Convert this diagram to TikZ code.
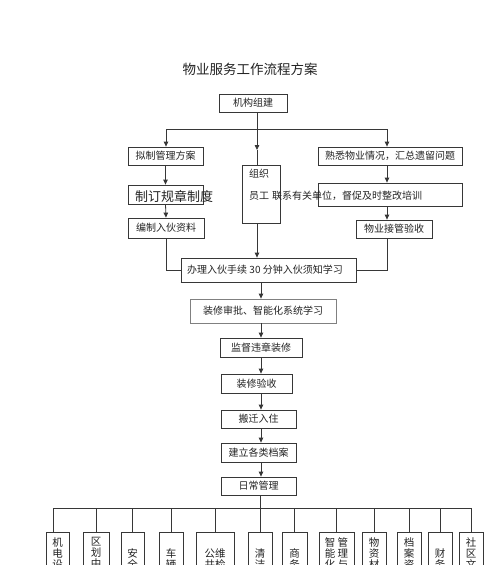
\documentclass[tikz,border=0pt]{standalone}
\usepackage{fontspec}
\setmainfont{Noto Sans CJK SC}
\usetikzlibrary{arrows.meta}
\definecolor{ln}{RGB}{55,55,55}
\definecolor{tx}{RGB}{35,35,35}
\begin{document}
\begin{tikzpicture}[x=1pt,y=-1pt,
  bx/.style={draw=ln,line width=0.8pt,inner sep=0pt,font=\fontsize{10}{12}\selectfont,text=tx},
  txt/.style={inner sep=0pt,font=\fontsize{10}{12}\selectfont,text=tx},
  lnk/.style={draw=ln,line width=0.8pt},
  arw/.style={draw=ln,line width=0.8pt,-{Triangle[length=5pt,width=4.5pt]}},
  vbox/.style={draw=ln,line width=0.8pt,inner sep=0pt,anchor=north,minimum height=70pt},
  vtxt/.style={inner sep=0pt,anchor=north,align=center,font=\fontsize{10.5}{11}\selectfont,text=tx}]

\clip (0,0) rectangle (500,565);
\fill[white] (0,0) rectangle (500,565);

\node[txt,font=\fontsize{13.5}{15}\selectfont] (title) at (250,69) {物业服务工作流程方案};

% top
\node[bx,minimum width=68pt,minimum height=18pt] (jg) at (253,103) {机构组建};
\node[bx,minimum width=75pt,minimum height=18pt] (nz) at (165.5,156) {拟制管理方案};
\node[bx,minimum width=75pt,minimum height=19pt] (zd) at (165.5,194.5) {};
\node[txt,font=\fontsize{13}{15}\selectfont] (zdt) at (174,196) {制订规章制度};
\node[bx,minimum width=76pt,minimum height=20pt] (bz) at (166,228) {编制入伙资料};
\node[bx,minimum width=38pt,minimum height=58pt] (zz) at (261,194) {};
\node[txt,anchor=west] (zzt1) at (249,174) {组织};
\node[txt,anchor=west] (zzt2) at (249,196) {员工};
\node[bx,minimum width=144pt,minimum height=18pt] (sx) at (390,156) {熟悉物业情况，汇总遗留问题};
\node[bx,minimum width=144pt,minimum height=23pt] (yg) at (390,194.5) {};
\node[txt,anchor=west] (ygt) at (272,196) {联系有关单位，督促及时整改培训};
\node[bx,minimum width=76pt,minimum height=18pt] (jk) at (394,229) {物业接管验收};

\node[bx,minimum width=175pt,minimum height=24pt] (bl) at (268.5,270) {};
\node[txt] (blt) at (265,270) {办理入伙手续 30 分钟入伙须知学习};
\draw[ln,line width=1.6pt] (bl.south west) -- (bl.south east);

\node[bx,draw=gray,minimum width=146pt,minimum height=24pt] (sp) at (263,311) {装修审批、智能化系统学习};
\node[bx,minimum width=82pt,minimum height=19pt] (jd) at (261,347.5) {监督违章装修};
\node[bx,minimum width=71pt,minimum height=19pt] (ys) at (256.5,383.5) {装修验收};
\draw[ln,line width=1.6pt] (ys.south west) -- (ys.south east);
\node[bx,minimum width=75pt,minimum height=18pt] (bq) at (258.5,419) {搬迁入住};
\node[bx,minimum width=75pt,minimum height=19pt] (da) at (258.5,452.5) {建立各类档案};
\node[bx,minimum width=75pt,minimum height=18pt] (rc) at (258.5,486) {日常管理};

% top connectors
\coordinate (jgb) at (257,112);
\coordinate (topL) at (166,129);
\coordinate (topC) at (257,129);
\coordinate (topR) at (387,129);
\coordinate (midC) at (257,150);
\draw[lnk] (topL) -- (topR);
\draw[arw] (jgb) -- (midC);
\draw[lnk] (midC) -- (midC |- zz.north);
\draw[arw] (topL) -- (topL |- nz.north);
\draw[arw] (topR) -- (topR |- sx.north);
\draw[arw] (nz.south) -- (zd.north);
\draw[arw] (zd.south) -- (bz.north);
\draw[lnk] (bz.south) -- (bz.south |- bl.west) -- (bl.west);
\draw[arw] (midC |- zz.south) -- (midC |- bl.north);
\draw[arw] (topR |- sx.south) -- (topR |- yg.north);
\draw[arw] (topR |- yg.south) -- (topR |- jk.north);
\draw[lnk] (topR |- jk.south) -- (topR |- bl.east) -- (bl.east);

% center column
\coordinate (col) at (261,0);
\draw[arw] (col |- bl.south) -- (col |- sp.north);
\draw[arw] (col |- sp.south) -- (col |- jd.north);
\draw[arw] (col |- jd.south) -- (col |- ys.north);
\draw[arw] (col |- ys.south) -- (col |- bq.north);
\draw[arw] (col |- bq.south) -- (col |- da.north);
\draw[arw] (col |- da.south) -- (col |- rc.north);

% bottom boxes
\node[vbox,minimum width=23pt] (b1) at (57.5,532) {};
\node[vtxt] (t1) at (57.5,537.5) {机\\电\\设};
\node[vbox,minimum width=26pt] (b2) at (96,532) {};
\node[vtxt] (t2) at (96,537.5) {区\\划\\中};
\node[vbox,minimum width=23pt] (b3) at (132.5,532) {};
\node[vtxt] (t3) at (132.5,548) {安\\全};
\node[vbox,minimum width=24pt] (b4) at (171,532) {};
\node[vtxt] (t4) at (171,548) {车\\辆};
\node[vbox,minimum width=38pt] (b5) at (215,532) {};
\node[vtxt] (t5) at (215,548) {公维\\共检};
\node[vbox,minimum width=24pt] (b6) at (260,532) {};
\node[vtxt] (t6) at (260,548) {清\\洁};
\node[vbox,minimum width=25pt] (b7) at (294.5,532) {};
\node[vtxt] (t7) at (294.5,548) {商\\务};
\node[vbox,minimum width=35pt] (b8) at (336.5,532) {};
\node[vtxt] (t8) at (336.5,537.5) {智\ 管\\能\ 理\\化\ 与};
\node[vbox,minimum width=24pt] (b9) at (374,532) {};
\node[vtxt] (t9) at (374,537.5) {物\\资\\材};
\node[vbox,minimum width=24pt] (b10) at (409,532) {};
\node[vtxt] (t10) at (409,537.5) {档\\案\\资};
\node[vbox,minimum width=24pt] (b11) at (440,532) {};
\node[vtxt] (t11) at (440,548) {财\\务};
\node[vbox,minimum width=24pt] (b12) at (471,532) {};
\node[vtxt] (t12) at (471,537.5) {社\\区\\文};

\coordinate (bus) at (260,508);
\draw[lnk] (bus |- rc.south) -- (bus);
\draw[lnk] ([xshift=-4.5pt]bus -| b1.north) -- (bus -| b12.north);
\draw[lnk] ([xshift=-4.5pt]bus -| b1.north) -- ([xshift=-4.5pt]b1.north);
\foreach \b in {b2,b3,b4,b5,b6,b7,b8,b9,b10,b11,b12}{
  \draw[lnk] (bus -| \b.north) -- (\b.north);
}
\end{tikzpicture}
\end{document}
